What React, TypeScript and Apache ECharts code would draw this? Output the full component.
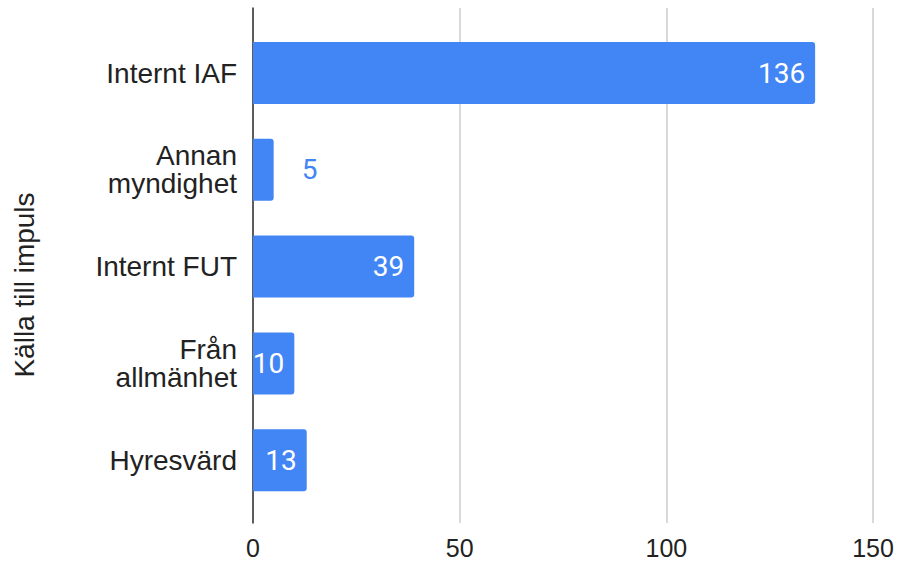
import React, { useEffect, useRef } from "react";
import * as echarts from "echarts";

const categories: string[] = ["Internt IAF", "Annan\nmyndighet", "Internt FUT", "Från\nallmänhet", "Hyresvärd"];
const values: number[] = [136, 5, 39, 10, 13];
const xTicks: number[] = [0, 50, 100, 150];
const axisTitle = "Källa till impuls";

const BLUE = "#4285F4";
const FONT = "'Liberation Sans', Arial, sans-serif";

export default function App() {
  const ref = useRef<HTMLDivElement>(null);
  useEffect(() => {
    if (!ref.current) return;
    const chart = echarts.init(ref.current, undefined, { renderer: "svg" });
    const xMax = xTicks[xTicks.length - 1];
    const interval = xTicks[1] - xTicks[0];
    chart.setOption({
      animation: false,
      textStyle: { fontFamily: FONT },
      grid: [
        { left: 253, right: 25, top: 24.6, height: 484, containLabel: false },
        { left: 253, right: 25, top: 8, height: 515, containLabel: false },
      ],
      xAxis: [
        { gridIndex: 0, type: "value", min: 0, max: xMax, interval, show: false },
        {
          gridIndex: 1,
          type: "value",
          min: 0,
          max: xMax,
          interval,
          axisLine: { show: false },
          axisTick: { show: false },
          splitLine: { show: true, lineStyle: { color: "#cccccc", width: 1.5 } },
          axisLabel: { fontSize: 25, lineHeight: 26, color: "#222", margin: 12, fontFamily: FONT },
        },
      ],
      yAxis: [
        {
          gridIndex: 0,
          type: "category",
          data: categories,
          inverse: true,
          axisLine: { show: false },
          axisTick: { show: false },
          splitLine: { show: false },
          axisLabel: {
            fontSize: 28,
            color: "#222",
            margin: 16,
            lineHeight: 28,
            align: "right",
            fontFamily: FONT,
          },
        },
        {
          gridIndex: 1,
          type: "value",
          min: 0,
          max: 1,
          axisLine: { show: true, onZero: false, lineStyle: { color: "#333", width: 1.5 } },
          axisTick: { show: false },
          axisLabel: { show: false },
          splitLine: { show: false },
        },
      ],
      graphic: [
        {
          type: "text",
          x: 24,
          y: 285,
          rotation: Math.PI / 2,
          style: {
            text: axisTitle,
            fontSize: 28,
            fontFamily: FONT,
            fill: "#222",
            align: "center",
            verticalAlign: "middle",
          },
        },
      ],
      series: [
        {
          type: "bar",
          xAxisIndex: 0,
          yAxisIndex: 0,
          barCategoryGap: "36%",
          itemStyle: { color: BLUE, borderRadius: [0, 3, 3, 0] },
          data: values.map((v) => {
            const inside = v >= 8;
            return {
              value: v,
              label: inside
                ? { show: true, position: "insideRight", distance: 10, color: "#ffffff", fontSize: 28, fontFamily: "Roboto, " + FONT }
                : { show: true, position: "right", distance: 28, color: BLUE, fontSize: 28, fontFamily: "Roboto, " + FONT },
            };
          }),
        },
      ],
    });
    return () => chart.dispose();
  }, []);
  return <div ref={ref} style={{ width: 898, height: 562, position: "absolute", left: 0, top: 0 }} />;
}
